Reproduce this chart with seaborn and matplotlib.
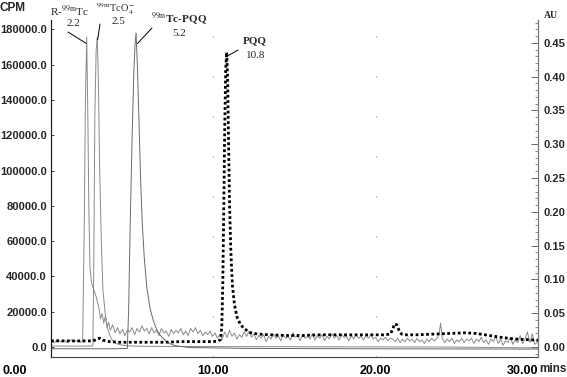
import numpy as np
import pandas as pd
import matplotlib
matplotlib.use('Agg')
import matplotlib.pyplot as plt
import matplotlib.ticker as mticker
import matplotlib.transforms as mtransforms
import seaborn as sns

# 放射性色谱 R-99mTc (带噪声基线)
r_t = [0.0, 0.2, 0.4, 0.6, 0.8, 1.0, 1.2, 1.4, 1.6, 1.8, 1.95, 2.05, 2.12, 2.2, 2.27, 2.33, 2.4, 2.5,
       2.65, 2.8, 2.95, 3.05, 3.15, 3.25, 3.35, 3.45, 3.55, 3.65, 3.8, 3.95, 4.1, 4.25, 4.4, 4.55, 4.7,
       4.85, 5.0, 5.15, 5.3, 5.45, 5.6, 5.75, 5.9, 6.05, 6.2, 6.35, 6.5, 6.65, 6.8, 6.95, 7.1, 7.25,
       7.4, 7.55, 7.7, 7.85, 8.0, 8.15, 8.3, 8.45, 8.6, 8.75, 8.9, 9.05, 9.2, 9.35, 9.5, 9.65, 9.8,
       9.95, 10.1, 10.25, 10.4, 10.55, 10.7, 10.85, 11.0, 11.15, 11.3, 11.45, 11.6, 11.75, 11.9, 12.05,
       12.2, 12.35, 12.5, 12.65, 12.8, 12.95, 13.1, 13.25, 13.4, 13.55, 13.7, 13.85, 14.0, 14.15, 14.3,
       14.45, 14.6, 14.75, 14.9, 15.05, 15.2, 15.35, 15.5, 15.65, 15.8, 15.95, 16.1, 16.25, 16.4, 16.55,
       16.7, 16.85, 17.0, 17.15, 17.3, 17.45, 17.6, 17.75, 17.9, 18.05, 18.2, 18.35, 18.5, 18.65, 18.8,
       18.95, 19.1, 19.25, 19.4, 19.55, 19.7, 19.85, 20.0, 20.15, 20.3, 20.45, 20.6, 20.75, 20.9, 21.05,
       21.2, 21.35, 21.5, 21.65, 21.8, 21.95, 22.1, 22.25, 22.4, 22.55, 22.7, 22.85, 23.0, 23.15, 23.3,
       23.45, 23.6, 23.75, 23.9, 24.0, 24.1, 24.25, 24.4, 24.55, 24.7, 24.85, 25.0, 25.15, 25.3, 25.45,
       25.6, 25.75, 25.9, 26.05, 26.2, 26.35, 26.5, 26.65, 26.8, 26.95, 27.1, 27.25, 27.4, 27.55, 27.7,
       27.85, 28.0, 28.15, 28.3, 28.45, 28.6, 28.75, 28.9, 29.05, 29.2, 29.35, 29.5, 29.65, 29.8, 30.0]
r_cpm = [3600, 2400, 4300, 2900, 3800, 2500, 4000, 3000, 3500, 2700, 3200, 70000, 140000, 175600, 130000,
         80000, 45000, 36000, 32000, 28000, 22000, 16000, 19000, 13500, 17500, 11000, 14000, 9500, 12500,
         8000, 11000, 7500, 10000, 6500, 9500, 8500, 11000, 7000, 10500, 8500, 12000, 9000, 10500, 7500,
         11000, 8000, 9500, 6500, 10500, 8000, 9000, 6000, 10000, 7500, 9500, 8000, 10500, 7000, 9000,
         6500, 10500, 8500, 11000, 7500, 9500, 6500, 8500, 7000, 9000, 6000, 8000, 5000, 7000, 4500,
         8500, 5500, 9500, 6000, 8000, 4500, 7000, 5500, 8500, 6000, 9000, 5500, 7500, 4000, 6500, 5000,
         7000, 3000, 6000, 4500, 7500, 5000, 6500, 3500, 7000, 5000, 6000, 4000, 8000, 5500, 6500, 3500,
         7000, 5000, 6000, 4500, 7500, 4000, 6500, 5000, 7000, 3500, 6000, 4500, 7500, 5000, 6500, 4000,
         7000, 5500, 6000, 3500, 6500, 4500, 7000, 5000, 6000, 4000, 6500, 5000, 7000, 4500, 5500, 3000,
         5000, 4000, 5500, 3500, 5000, 4500, 3000, 5000, 2500, 4500, 3000, 5000, 3500, 4500, 2500, 5000,
         3000, 4000, 2000, 4500, 3000, 5000, 3500, 4500, 7000, 13500, 5000, 2500, 4500, 3000, 5000, 2000,
         4000, 3000, 5000, 2500, 4500, 3500, 5000, 2000, 4500, 3000, 5500, 2500, 4000, 1500, 4500, 3000,
         6000, 2000, 4500, 1000, 3500, 2500, 5500, 1500, 4000, 2500, 6500, 2000, 4500, 8500, 2500, 7500,
         1500, 3000]

# 99mTcO4-
o_t = [0.0, 1.0, 2.0, 2.58, 2.64, 2.7, 2.78, 2.85, 2.92, 3.0, 3.1, 3.2, 3.35, 3.5, 3.65, 3.8, 4.0,
       4.3, 4.7, 5.5, 8.0, 12.0, 18.0, 24.0, 30.0]
o_cpm = [600, 500, 500, 600, 50000, 130000, 168000, 175500, 150000, 100000, 60000, 32000, 18000,
         10000, 6000, 3500, 2000, 1200, 700, 400, 300, 200, 100, 0, -500]

# 99mTc-PQQ
p_t = [0.0, 2.0, 4.0, 4.7, 4.78, 4.88, 5.0, 5.1, 5.18, 5.24, 5.32, 5.42, 5.52, 5.62, 5.75, 5.9, 6.1,
       6.3, 6.5, 6.7, 6.9, 7.2, 7.6, 8.5, 12.0, 20.0, 30.0]
p_cpm = [-1000, -1000, -1000, -800, 20000, 70000, 120000, 155000, 172000, 177900, 160000, 128000,
         95000, 70000, 50000, 34000, 22000, 15000, 10000, 7000, 5000, 2500, 800, -300, -800, -1000, -1200]

# 紫外 PQQ (AU)
uv_t = [0.0, 1.0, 2.0, 2.6, 2.85, 3.0, 3.2, 3.6, 4.2, 5.0, 6.0, 7.0, 8.0, 9.0, 10.0, 10.3, 10.45,
        10.52, 10.58, 10.64, 10.7, 10.76, 10.82, 10.88, 10.94, 11.0, 11.08, 11.18, 11.3, 11.45, 11.65,
        11.9, 12.3, 12.8, 13.5, 14.5, 15.5, 16.5, 17.5, 18.5, 19.5, 20.5, 20.9, 21.05, 21.15, 21.3,
        21.45, 21.6, 21.8, 22.5, 23.5, 24.5, 25.5, 26.2, 27.0, 27.8, 28.5, 29.2, 30.0]
uv_au = [0.009, 0.009, 0.009, 0.009, 0.012, 0.013, 0.010, 0.008, 0.007, 0.007, 0.007, 0.007, 0.008,
         0.008, 0.008, 0.009, 0.011, 0.03, 0.09, 0.2, 0.32, 0.41, 0.436, 0.40, 0.30, 0.21, 0.14, 0.09,
         0.063, 0.045, 0.034, 0.027, 0.021, 0.019, 0.018, 0.017, 0.017, 0.018, 0.018, 0.018, 0.018,
         0.018, 0.019, 0.026, 0.034, 0.033, 0.024, 0.019, 0.018, 0.018, 0.019, 0.020, 0.021, 0.020,
         0.017, 0.014, 0.012, 0.011, 0.010]

x_ticks = [0, 10, 20, 30]
cpm_ticks = [0, 20000, 40000, 60000, 80000, 100000, 120000, 140000, 160000, 180000]
au_ticks = [0.0, 0.05, 0.10, 0.15, 0.20, 0.25, 0.30, 0.35, 0.40, 0.45]

sns.set_style('white')
plt.rcParams['font.family'] = ['Liberation Sans', 'DejaVu Sans']
plt.rcParams['mathtext.fontset'] = 'stix'

W, H = 567, 377
fig = plt.figure(figsize=(W / 100, H / 100), dpi=100)
ax = fig.add_axes([51 / W, (H - 357) / H, (538 - 51) / W, (357 - 20) / H])
ax2 = ax.twinx()

sns.lineplot(x=r_t, y=r_cpm, ax=ax, color='#8a8a8a', lw=0.7, estimator=None, sort=False)
sns.lineplot(x=o_t, y=o_cpm, ax=ax, color='#8a8a8a', lw=0.7, estimator=None, sort=False)
sns.lineplot(x=p_t, y=p_cpm, ax=ax, color='#6a6a6a', lw=0.7, estimator=None, sort=False)
sns.lineplot(x=uv_t, y=uv_au, ax=ax2, color='black', lw=2.0, estimator=None, sort=False,
             linestyle=(0, (1, 0.9)))

ax.set_xlim(0, 30)
ax.set_ylim(-5666, 185280)
ax2.set_ylim(-0.0148, 0.4837)

# x 轴
ax.set_xticks(x_ticks)
ax.set_xticklabels(['%.2f' % v for v in x_ticks], fontsize=9, fontweight='bold')
ax.xaxis.set_minor_locator(mticker.MultipleLocator(1))
ax.tick_params(axis='x', which='major', direction='out', length=4, width=0.8, pad=2, colors='#333333')
ax.tick_params(axis='x', which='minor', direction='out', length=2, width=0.6, colors='#555555')
xl = ax.get_xticklabels()
for lab in xl:
    lab.set_color('black')
xl[0].set_transform(xl[0].get_transform() + mtransforms.ScaledTranslation(-0.36, 0, fig.dpi_scale_trans))
xl[-1].set_horizontalalignment('right')
ax.xaxis.grid(True, color='#8080cc', lw=0.8, linestyle=(0, (1, 35)))
ax.yaxis.grid(False)

# 左 y 轴
ax.set_yticks(cpm_ticks)
ax.yaxis.set_major_formatter(mticker.FormatStrFormatter('%.1f'))
ax.tick_params(axis='y', which='major', direction='in', length=2, width=0.6, pad=3, labelsize=8)
for lab in ax.get_yticklabels():
    lab.set_fontweight('bold')

# 右 y 轴
ax2.set_yticks(au_ticks)
ax2.yaxis.set_major_formatter(mticker.FormatStrFormatter('%.2f'))
ax2.yaxis.set_minor_locator(mticker.MultipleLocator(0.01))
ax2.tick_params(axis='y', which='major', direction='in', length=5, width=0.7, pad=4, labelsize=8,
                color='#666666')
ax2.tick_params(axis='y', which='minor', direction='in', length=2.5, width=0.6, color='#777777')
for lab in ax2.get_yticklabels():
    lab.set_fontweight('bold')

for a in (ax, ax2):
    a.spines['top'].set_visible(False)
ax.spines['right'].set_visible(False)
ax2.spines['left'].set_visible(False)
ax.spines['left'].set_color('#222222')
ax.spines['left'].set_linewidth(0.9)
ax.spines['bottom'].set_color('#444444')
ax.spines['bottom'].set_linewidth(0.8)
ax2.spines['right'].set_color('#777777')
ax2.spines['right'].set_linewidth(0.9)
ax2.spines['bottom'].set_visible(False)

# 轴标题
fig.text(13 / W, 1 - 8 / H, 'CPM', ha='center', va='center', fontsize=8.5, fontweight='bold')
fig.text(551 / W, 1 - 16 / H, 'AU', ha='center', va='center', fontsize=7, fontweight='bold',
         family=['Liberation Serif', 'DejaVu Serif'])
fig.text(539 / W, 1 - 369 / H, 'mins', ha='left', va='center', fontsize=8.5, fontweight='bold')

# 峰标注
serif = ['Liberation Serif', 'DejaVu Serif']
fig.text(69 / W, 1 - 11 / H, r'R-$^{\mathrm{99m}}$Tc', ha='center', va='center', fontsize=8, family=serif)
fig.text(73 / W, 1 - 24 / H, '2.2', ha='center', va='center', fontsize=8, family=serif)
fig.text(115 / W, 1 - 1 / H, r'$^{\mathrm{99m}}$TcO$_{4}^{-}$', ha='center', va='top', fontsize=7.5, family=serif)
fig.text(118 / W, 1 - 22 / H, '2.5', ha='center', va='center', fontsize=8, family=serif)
fig.text(179 / W, 1 - 19 / H, r'$^{\mathrm{99m}}$Tc-PQQ', ha='center', va='center', fontsize=8, family=serif,
         fontweight='bold')
fig.text(179 / W, 1 - 33 / H, '5.2', ha='center', va='center', fontsize=8, family=serif)
fig.text(255 / W, 1 - 41 / H, 'PQQ', ha='center', va='center', fontsize=8, family=serif, fontweight='bold')
fig.text(256 / W, 1 - 55 / H, '10.8', ha='center', va='center', fontsize=8, family=serif)

arr = dict(arrowstyle='-', lw=0.7, color='black', shrinkA=0, shrinkB=0)
ax.annotate('', xy=(2.17, 172000), xytext=(68, H - 32), textcoords='figure pixels', arrowprops=arr)
ax.annotate('', xy=(2.87, 174000), xytext=(100, H - 24), textcoords='figure pixels', arrowprops=arr)
ax.annotate('', xy=(5.33, 172000), xytext=(152, H - 28), textcoords='figure pixels', arrowprops=arr)
ax2.annotate('', xy=(10.84, 0.43), xytext=(238, H - 50), textcoords='figure pixels', arrowprops=arr)

fig.savefig('out.png', dpi=100)
